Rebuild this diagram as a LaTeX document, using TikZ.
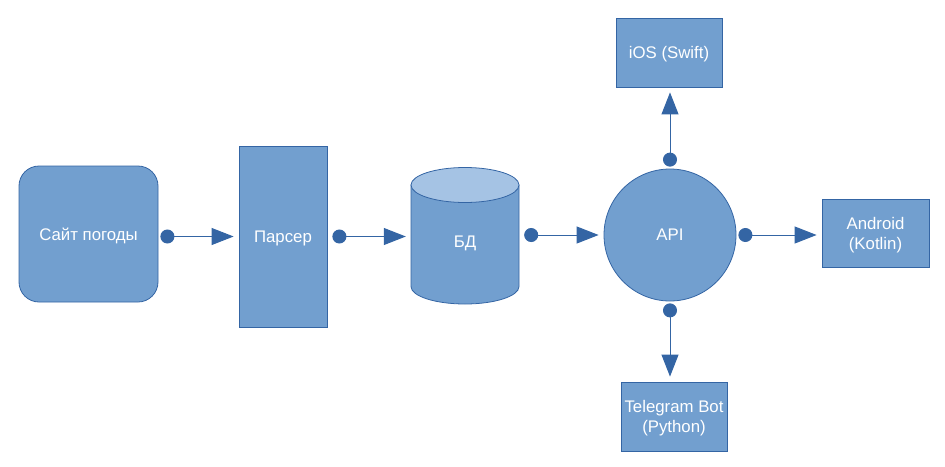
\documentclass[tikz,border=0pt]{standalone}
\usepackage{fontspec}
\setmainfont{Liberation Sans}
\usetikzlibrary{arrows.meta,calc}
\definecolor{boxfill}{HTML}{729FCF}
\definecolor{boxline}{HTML}{3465A4}
\definecolor{toplight}{HTML}{A5C3E4}
\begin{document}
\begin{tikzpicture}[x=1pt,y=1pt,
  box/.style={draw=boxline,fill=boxfill,line width=0.8pt,text=white,align=center,
    font=\fontsize{16.8}{20}\selectfont,inner sep=0pt,text depth=0pt},
  label/.style={text=white,align=center,font=\fontsize{16.8}{20}\selectfont,inner sep=0pt},
  conn/.style={draw=boxline,line width=1pt,
    {Circle[length=14pt,fill=boxline]}-{Triangle[length=22pt,width=17pt,fill=boxline]},
    shorten <=2pt, shorten >=5pt}]
\useasboundingbox (0,0) rectangle (945,-466);
\node[box,rounded corners=20pt,minimum width=139pt,minimum height=136pt] (site) at (88.5,-234) {Сайт погоды};
\node[box,minimum width=88pt,minimum height=181pt] (parser) at (283,-236.5) {Парсер};
% cylinder
\draw[draw=boxline,fill=boxfill,line width=0.8pt] (411,-185) -- (411,-286.5) arc[start angle=180,end angle=360,x radius=54,y radius=17.5] -- (519,-185) -- cycle;
\draw[draw=boxline,fill=toplight,line width=0.8pt] (465,-185) ellipse[x radius=54,y radius=17.5];
\node[minimum width=108pt,minimum height=137pt,inner sep=0pt] (db) at (465,-235.5) {};
\node[label] (dbtext) at (465,-243) {БД};
\node[box,circle,minimum size=132pt] (api) at (670,-235) {API};
\node[box,minimum width=106pt,minimum height=69pt] (ios) at (669,-52.5) {iOS (Swift)};
\node[box,minimum width=107pt,minimum height=68pt] (android) at (875.5,-233) {Android\\(Kotlin)};
\node[box,minimum width=106pt,minimum height=69pt] (tg) at (674,-416.5) {Telegram Bot\\(Python)};
\draw[conn] (site.east |- parser.west) -- (parser.west);
\draw[conn,shorten <=5pt] (parser.east) -- (parser.east -| db.west);
\draw[conn,shorten <=5pt] (db.east |- api.west) -- (api.west);
\draw[conn] (api.east) -- (api.east -| android.west);
\draw[conn] (api.north) -- (ios.south -| api.north);
\draw[conn] (api.south) -- (tg.north -| api.south);
\end{tikzpicture}
\end{document}
